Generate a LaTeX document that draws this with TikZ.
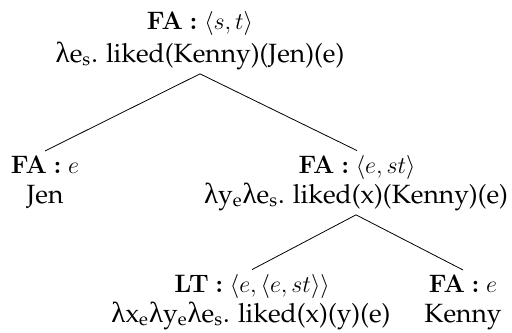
\documentclass[tikz,border=0pt]{standalone}
\usepackage{fontspec}
\newfontfamily\greekfont[Scale=1.1]{Liberation Serif}
\usetikzlibrary{positioning}
\newcommand{\lam}{{\greekfont λ}}
\newcommand{\trm}[1]{{\fontencoding{OT1}\fontfamily{ppl}\fontsize{13.2}{16}\selectfont #1}}
\newcommand{\sub}[1]{\textsubscript{#1}}
\newcommand{\lab}[2]{\textbf{#1}$\;$\textbf{:}$\;#2$}

\begin{document}
\begin{tikzpicture}[x=0.5pt, y=-0.5pt, font=\fontsize{12.6}{15}\selectfont]
	\useasboundingbox (0,0) rectangle (512,332);
	\begin{scope}
		\tikzstyle{every node}=[anchor=base, inner sep=2pt]
		\node (rootT) at (200, 29) {\lab{FA}{\langle s, t\rangle}};
		\node (rootE) at (200, 62) {\trm{\lam e\sub{s}. liked(Kenny)(Jen)(e)}};

		\node (jenT) at (45, 173) {\lab{FA}{e}};
		\node (jenE) at (45, 203) {\trm{Jen}};

		\node (vpT) at (357, 173) {\lab{FA}{\langle e, st\rangle}};
		\node (vpE) at (356, 203) {\trm{\lam y\sub{e}\lam e\sub{s}. liked(x)(Kenny)(e)}};

		\node (ltT) at (252, 292) {\lab{LT}{\langle e, \langle e, st\rangle\rangle}};
		\node (ltE) at (251, 322) {\trm{\lam x\sub{e}\lam y\sub{e}\lam e\sub{s}. liked(x)(y)(e)}};

		\node (kenT) at (463, 292) {\lab{FA}{e}};
		\node (kenE) at (463, 322) {\trm{Kenny}};

		\draw (rootE.south) -- (jenT.north);
		\draw (rootE.south) -- (vpT.north);
		\draw (vpE.south) -- (ltT.north);
		\draw (vpE.south) -- (kenT.north);

	\end{scope}
\end{tikzpicture}
\end{document}
